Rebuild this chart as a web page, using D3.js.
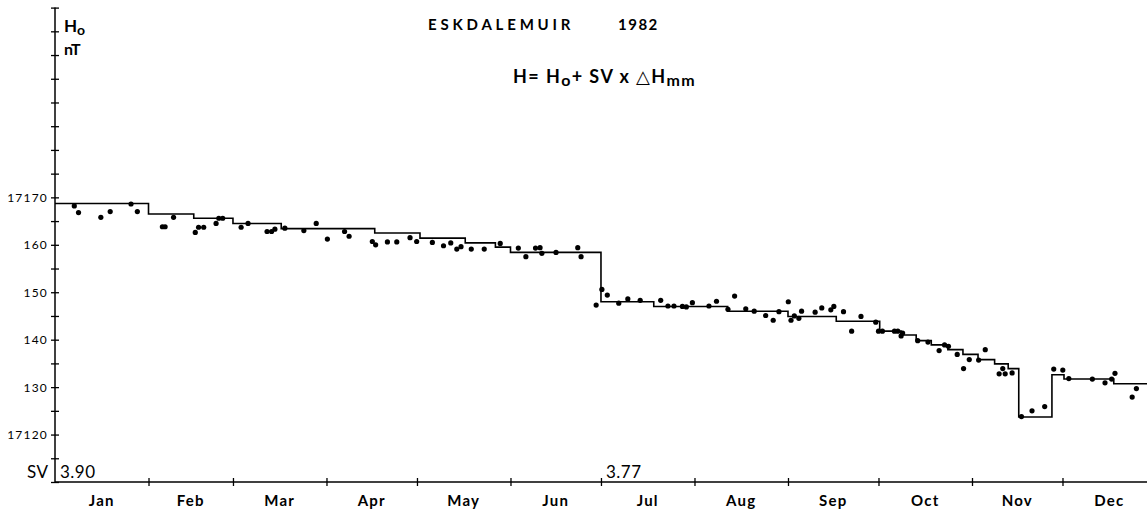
<!DOCTYPE html>
<html>
<head>
<meta charset="utf-8">
<script src="https://cdn.jsdelivr.net/npm/d3@7"></script>
<style>
  body { margin: 0; background: #fff; }
  svg { display: block; font-family: Lato, 'DejaVu Sans', sans-serif; }
  text { fill: #000; }
</style>
</head>
<body>
<div class="vis-chart"></div>
<script>
// month labels and the day of year each month starts on
const months = ['Jan', 'Feb', 'Mar', 'Apr', 'May', 'Jun', 'Jul', 'Aug', 'Sep', 'Oct', 'Nov', 'Dec'];
const monthStarts = [0, 31, 59, 90, 120, 151, 181, 212, 243, 273, 304, 334, 365];

// y axis ticks (every 5 nT) and labelled ones
const yTicks = [17110, 17115, 17120, 17125, 17130, 17135, 17140, 17145, 17150, 17155, 17160,
  17165, 17170, 17175, 17180, 17185, 17190, 17195, 17200, 17205, 17210];
const yLabelValues = [17170, 17160, 17150, 17140, 17130, 17120];
const yLabelText = ['17170', '160', '150', '140', '130', '17120'];

// SV values and the day they apply from
const svDays = [0, 181];
const svText = ['3.90', '3.77'];

// baseline Ho steps: start day and level
const stepDays = [0, 31, 46, 59, 75, 106, 121, 136, 146, 151, 181, 198.5, 223, 243, 259, 273.4,
  280.5, 285.5, 290.5, 296, 301, 306, 311.5, 316, 319.5, 330.5, 334.5, 351, 365];
const stepLevels = [17168.7, 17166.5, 17165.6, 17164.5, 17163.4, 17162.5, 17161.4, 17160.4, 17159.5,
  17158.4, 17148.0, 17147.0, 17146.0, 17144.9, 17143.9, 17141.8, 17141.0, 17139.8, 17138.9, 17137.9,
  17136.9, 17135.8, 17134.9, 17133.9, 17123.7, 17132.6, 17131.7, 17130.7, 17130.7];

// observed values
const dotDays = [6.4, 7.8, 15.2, 18.3, 25.2, 27.3, 35.6, 36.5, 39.3, 46.5, 47.6, 49.3, 53.4, 54.3, 55.6,
  61.7, 64.0, 70.3, 71.8, 72.9, 76.2, 82.5, 86.6, 90.3,
  96.0, 97.5, 105.2, 106.3, 110.2, 113.3, 117.7, 119.9, 125.1, 128.8, 131.2, 133.2, 134.6, 138.0, 142.3,
  147.6, 153.6, 156.1, 159.3, 160.8, 161.4, 166.1, 173.3, 174.4,
  179.4, 181.3, 183.1, 186.9, 189.9, 194.0, 200.8, 203.2, 205.2, 208.0, 209.3, 211.3, 216.8, 219.3, 223.1,
  225.3, 229.0, 231.8, 235.6, 238.1, 240.0, 243.1, 244.0, 245.1, 246.6, 247.5, 252.0, 254.2, 257.2, 258.2,
  261.4, 264.1, 267.2,
  272.1, 273.0, 274.3, 278.3, 279.4, 280.5, 281.0, 286.0, 289.4, 293.1, 294.9, 296.2, 299.1, 301.2, 303.1,
  306.2, 308.4, 313.0, 314.2, 315.0, 317.3, 320.4, 323.9, 328.1, 331.1, 334.1, 336.1, 343.9, 348.1, 350.3,
  351.4, 357.1, 358.5];
const dotValues = [17168.2, 17166.8, 17165.8, 17167.0, 17168.6, 17167.0, 17163.8, 17163.8, 17165.8, 17162.6,
  17163.7, 17163.7, 17164.5, 17165.6, 17165.6, 17163.7, 17164.5, 17162.8, 17162.8, 17163.3, 17163.5, 17163.0,
  17164.5, 17161.2,
  17162.8, 17161.8, 17160.7, 17160.0, 17160.6, 17160.6, 17161.5, 17160.7, 17160.5, 17159.8, 17160.4, 17159.1,
  17159.6, 17159.1, 17159.1, 17160.3, 17159.3, 17157.5, 17159.3, 17159.4, 17158.2, 17158.4, 17159.4, 17157.5,
  17147.3, 17150.6, 17149.4, 17147.7, 17148.6, 17148.3, 17148.3, 17147.1, 17147.1, 17147.0, 17146.9, 17147.8,
  17147.1, 17148.1, 17146.4, 17149.2, 17146.5, 17146.0, 17145.1, 17144.1, 17145.9, 17148.0, 17144.1, 17145.0,
  17144.5, 17146.0, 17145.8, 17146.7, 17146.3, 17147.0, 17145.9, 17141.8, 17144.9,
  17143.7, 17141.8, 17141.8, 17141.8, 17141.8, 17140.8, 17141.4, 17139.8, 17139.5, 17137.7, 17138.9, 17138.6,
  17136.9, 17133.9, 17135.8, 17135.7, 17137.9, 17132.8, 17133.9, 17132.8, 17133.0, 17123.8, 17125.0, 17125.9,
  17133.8, 17133.6, 17131.8, 17131.7, 17130.9, 17131.7, 17132.9, 17127.9, 17129.7];

const width = 1147;
const height = 515;

const svg = d3.select('.vis-chart').append('svg')
  .attr('width', width).attr('height', height);

const xScale = d3.scaleLinear().domain([0, 365]).range([55, 1156]);
const yScale = d3.scaleLinear().domain([17110, 17210]).range([482, 7.6]);

const x0 = xScale(0);
const yBase = yScale(17110);

// y axis: ticks crossing the line on both sides
const yAxis = d3.axisLeft(yScale).tickValues(yTicks).tickSizeInner(-4).tickSizeOuter(0).tickFormat('');
const yAxisG = svg.append('g').attr('transform', `translate(${x0},0)`).call(yAxis);
yAxisG.select('.domain').remove();
yAxisG.selectAll('.tick line').attr('x1', -4).attr('x2', 4).attr('stroke', '#000').attr('stroke-width', 1.3);
svg.append('line')
  .attr('x1', x0).attr('x2', x0).attr('y1', yScale(17210)).attr('y2', yBase)
  .attr('stroke', '#000').attr('stroke-width', 1.5);

svg.append('g').selectAll('text').data(yLabelValues).join('text')
  .attr('x', 48)
  .attr('y', d => yScale(d) + 4.5)
  .attr('text-anchor', 'end')
  .style('font-size', '12px')
  .style('letter-spacing', '1.2px')
  .text((d, i) => yLabelText[i]);

// x axis
const xAxis = d3.axisBottom(xScale).tickValues(monthStarts.slice(1, 12)).tickSize(4).tickFormat('');
const xAxisG = svg.append('g').attr('transform', `translate(0,${yBase})`).call(xAxis);
xAxisG.select('.domain').remove();
xAxisG.selectAll('.tick line').attr('y1', -4).attr('y2', 4).attr('stroke', '#000').attr('stroke-width', 1.3);
svg.append('line')
  .attr('x1', x0).attr('x2', xScale(365)).attr('y1', yBase).attr('y2', yBase)
  .attr('stroke', '#000').attr('stroke-width', 1.5);

svg.append('g').selectAll('text').data(months).join('text')
  .attr('x', (d, i) => xScale((monthStarts[i] + monthStarts[i + 1]) / 2))
  .attr('y', 506)
  .attr('text-anchor', 'middle')
  .style('font-size', '15px')
  .style('font-weight', 'bold')
  .style('letter-spacing', '1.2px')
  .text(d => d);

// SV labels
svg.append('text')
  .attr('x', 27).attr('y', 478)
  .style('font-size', '17px')
  .style('letter-spacing', '0.5px')
  .text('SV');
svg.append('g').selectAll('text').data(svDays).join('text')
  .attr('x', d => xScale(d) + 5)
  .attr('y', 478)
  .style('font-size', '17px')
  .style('letter-spacing', '0.5px')
  .text((d, i) => svText[i]);

// baseline step line
const stepLine = d3.line()
  .x(d => xScale(d[0]))
  .y(d => yScale(d[1]))
  .curve(d3.curveStepAfter);
svg.append('path')
  .datum(stepDays.map((d, i) => [d, stepLevels[i]]))
  .attr('d', stepLine)
  .attr('fill', 'none')
  .attr('stroke', '#000')
  .attr('stroke-width', 1.6);

// observed points
svg.append('g').selectAll('circle').data(dotDays).join('circle')
  .attr('cx', d => xScale(d))
  .attr('cy', (d, i) => yScale(dotValues[i]))
  .attr('r', 2.6)
  .attr('fill', '#000');

// axis unit label
const hLabel = svg.append('text').attr('x', 64).attr('y', 32).style('font-size', '17px').style('font-weight', 'bold');
hLabel.append('tspan').text('H');
hLabel.append('tspan').attr('dy', 3).style('font-size', '14px').text('o');
svg.append('text').attr('x', 64).attr('y', 55)
  .style('font-size', '16px').style('font-weight', 'bold').text('nT');

// title and formula
svg.append('text')
  .attr('x', 428).attr('y', 30)
  .style('font-size', '15px')
  .style('font-weight', 'bold')
  .style('letter-spacing', '3.8px')
  .text('ESKDALEMUIR');
svg.append('text')
  .attr('x', 618).attr('y', 30)
  .style('font-size', '15px')
  .style('font-weight', 'bold')
  .style('letter-spacing', '1.5px')
  .text('1982');

const formula = svg.append('text')
  .attr('x', 513).attr('y', 83)
  .style('font-size', '18px')
  .style('font-weight', 'bold')
  .style('letter-spacing', '1.4px');
formula.append('tspan').text('H=  H');
formula.append('tspan').attr('dy', 3).style('font-size', '16px').text('o');
formula.append('tspan').attr('dy', -3).text('+ SV  x  ');
formula.append('tspan').style('font-family', "'DejaVu Sans'").style('font-weight', 'normal').text('\u25B3');
formula.append('tspan').text('H');
formula.append('tspan').attr('dy', 3).style('font-size', '16px').text('mm');
</script>
</body>
</html>
